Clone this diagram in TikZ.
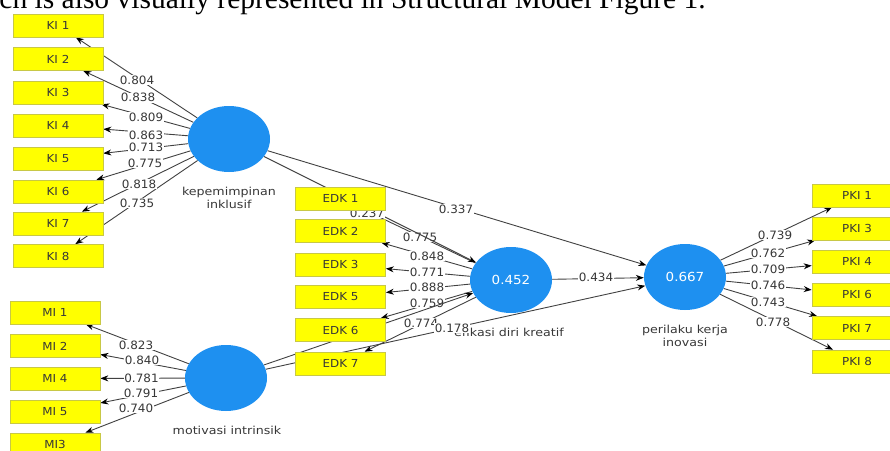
\documentclass[tikz,border=0pt]{standalone}
\usepackage{fontspec}
\setmainfont{Liberation Serif}
\newfontfamily\labfont[FakeStretch=1.04]{DejaVu Sans}
\newfontfamily\capfont[FakeStretch=1.15]{DejaVu Sans}
\newfontfamily\boxfont[FakeStretch=1.08]{DejaVu Sans}
\usetikzlibrary{arrows.meta,shapes.geometric}
\definecolor{lvblue}{RGB}{30,144,240}
\definecolor{indyellow}{RGB}{255,255,0}
\definecolor{indborder}{RGB}{200,200,70}
\definecolor{txtgray}{RGB}{55,55,55}
\definecolor{linegray}{RGB}{65,65,65}
\pgfdeclarelayer{bg}
\pgfsetlayers{bg,main}
\tikzset{
  indbox/.style={draw=indborder, line width=0.6pt, fill=indyellow, minimum width=90pt,
    minimum height=23pt, inner sep=0pt, font=\boxfont\fontsize{11}{12}\selectfont, text=txtgray},
  lv/.style={ellipse, fill=lvblue, minimum width=82pt, minimum height=66pt, inner sep=0pt,
    text=white, font=\boxfont\fontsize{12.5}{13}\selectfont},
  lvcap/.style={font=\capfont\fontsize{11}{13.5}\selectfont, text=txtgray, align=center, inner sep=0pt},
  wt/.style={font=\labfont\fontsize{11.5}{12}\selectfont, text=txtgray, fill=white, inner sep=0.6pt},
  conn/.style={draw=linegray, line width=0.9pt, -{Stealth[length=8pt,width=6pt,black]}},
}
\begin{document}
\begin{tikzpicture}[x=1pt,y=-1pt]
\useasboundingbox (0,0) rectangle (890,450);
\clip (0,0) rectangle (890,450);
% clipped text line at the top
\node[anchor=base west, font=\fontsize{29.5}{30}\selectfont, inner sep=0pt] (toptext) at (-45,8)
  {which is also visually represented in Structural Model Figure 1.};

% latent variables
\node[lv] (lvki) at (229,139) {};
\node[lv] (lvmi) at (226,378) {};
\node[lv] (lvedk) at (511,280) {0.452};
\node[lv] (lvpki) at (685,277) {0.667};

% indicator boxes
\foreach \n/\y in {1/25.5,2/59,3/92.5,4/125.5,5/158.5,6/191.5,7/223.5,8/256}
  \node[indbox] (ki\n) at (58,\y) {KI \n};
\node[indbox] (mi1) at (55,312.5) {MI 1};
\node[indbox] (mi2) at (55,346) {MI 2};
\node[indbox] (mi4) at (55,378.5) {MI 4};
\node[indbox] (mi5) at (55,412) {MI 5};
\node[indbox] (mi3) at (55,444.5) {MI3};
\foreach \n/\y in {1/198.5,2/231,3/264.5,5/297,6/330,7/363.5}
  \node[indbox] (edk\n) at (340.5,\y) {EDK \n};
\foreach \n/\y in {1/195.5,3/228.5,4/261.5,6/294.5,7/328,8/361.5}
  \node[indbox] (pki\n) at (857,\y) {PKI \n};

\begin{pgfonlayer}{bg}
  % captions
  \node[lvcap] (capki) at (229,198) {kepemimpinan\\inklusif};
  \node[lvcap] (capmi) at (227,430) {motivasi intrinsik};
  \node[lvcap] (capedk) at (509,332) {efikasi diri kreatif};
  \node[lvcap] (cappki) at (685,336) {perilaku kerja\\inovasi};
  % outer loadings: lines
  \foreach \n in {1,...,8} \draw[conn] (lvki) -- (ki\n);
  \foreach \n in {1,2,4,5,3} \draw[conn] (lvmi) -- (mi\n);
  \foreach \n in {1,2,3,5,6,7} \draw[conn] (lvedk) -- (edk\n);
  \foreach \n in {1,3,4,6,7,8} \draw[conn] (lvpki) -- (pki\n);
  % outer loadings: labels
  \foreach \n/\lx/\ly/\v in {1/137/80/0.804,2/138/97.7/0.838,3/146/117/0.809,4/146/135/0.863,
      5/146/147/0.713,6/145/163/0.775,7/139/184/0.818,8/137/203/0.735}
    \node[wt] (wki\n) at (\lx,\ly) {\v};
  \foreach \n/\lx/\ly/\v in {1/136/345/0.823,2/142/360/0.840,4/141.5/378/0.781,5/141/393/0.791,3/136/408/0.740}
    \node[wt] (wmi\n) at (\lx,\ly) {\v};
  \foreach \n/\lx/\ly/\v in {1/420/237/0.775,2/427/256/0.848,3/427/272/0.771,5/427/287/0.888,
      6/427/303/0.759,7/421/323/0.774}
    \node[wt] (wedk\n) at (\lx,\ly) {\v};
  \foreach \n/\lx/\ly/\v in {1/775/235/0.739,3/768/253/0.762,4/768/269/0.709,6/768/285/0.746,
      7/768/302/0.743,8/773/322/0.778}
    \node[wt] (wpki\n) at (\lx,\ly) {\v};
  % structural paths
  \draw[conn] (lvki) -- (lvedk);
  \draw[conn] (lvki) -- (lvpki);
  \draw[conn] (lvedk) -- (lvpki);
  \draw[conn] (lvmi) -- (lvedk);
  \draw[conn] (lvmi) -- (lvpki);
  \node[wt] (p1) at (367,213) {0.237};
  \node[wt] (p2) at (456,209) {0.337};
  \node[wt] (p3) at (596,277) {0.434};
  \node[wt] (p4) at (452,328) {0.178};
\end{pgfonlayer}
\end{tikzpicture}
\end{document}
